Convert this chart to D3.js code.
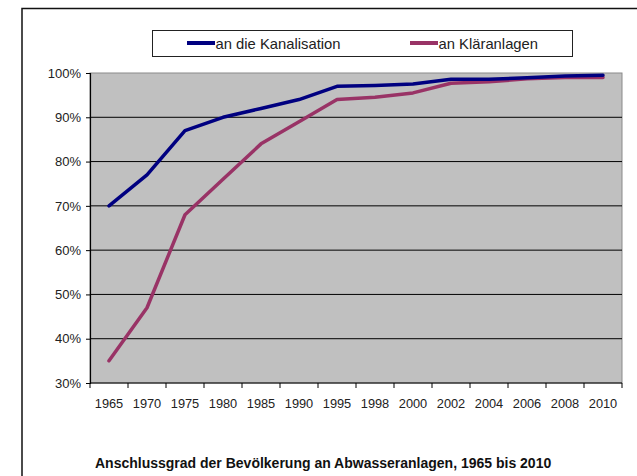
<!DOCTYPE html>
<html>
<head>
<meta charset="utf-8">
<script src="https://cdn.jsdelivr.net/npm/d3@7"></script>
<style>
  body { margin: 0; background: #fff; }
  svg { display: block; font-family: "Liberation Sans", Arial, sans-serif; }
</style>
</head>
<body>
<div id="chart"></div>
<script>
  // Anschlussgrad der Bevölkerung (%)
  const years = ["1965", "1970", "1975", "1980", "1985", "1990", "1995", "1998", "2000", "2002", "2004", "2006", "2008", "2010"];
  const kanalisation = [70, 77, 87, 90, 92, 94, 97, 97.2, 97.5, 98.6, 98.6, 98.9, 99.3, 99.5];
  const klaeranlagen = [35, 47, 68, 76, 84, 89, 94, 94.5, 95.5, 97.7, 98, 98.7, 99, 99];
  const yTicks = [30, 40, 50, 60, 70, 80, 90, 100];

  const width = 637;
  const height = 476;
  const margin = { top: 73, right: 15, bottom: 93, left: 90 };

  const svg = d3.select("#chart")
    .append("svg")
    .attr("width", width)
    .attr("height", height);

  // outer frame (right and bottom run off the page)
  svg.append("rect")
    .attr("x", 22)
    .attr("y", 8.5)
    .attr("width", 640)
    .attr("height", 500)
    .attr("fill", "none")
    .attr("stroke", "#111")
    .attr("stroke-width", 1.5);

  const x = d3.scaleBand()
    .domain(years)
    .range([margin.left, width - margin.right]);

  const y = d3.scaleLinear()
    .domain([30, 100])
    .range([height - margin.bottom, margin.top]);

  const plotW = width - margin.right - margin.left;
  const plotH = height - margin.bottom - margin.top;

  // plot area
  svg.append("rect")
    .attr("x", margin.left)
    .attr("y", margin.top)
    .attr("width", plotW)
    .attr("height", plotH)
    .attr("fill", "#c0c0c0")
    .attr("stroke", "#8a8a8a")
    .attr("stroke-width", 1);

  // gridlines
  svg.append("g")
    .selectAll("line")
    .data(yTicks.slice(1, -1))
    .enter()
    .append("line")
    .attr("x1", margin.left)
    .attr("x2", width - margin.right)
    .attr("y1", d => y(d))
    .attr("y2", d => y(d))
    .attr("stroke", "#000")
    .attr("stroke-width", 1);

  // y axis
  const yAxis = svg.append("g")
    .attr("transform", `translate(${margin.left},0)`)
    .call(d3.axisLeft(y).tickValues(yTicks).tickFormat(d => d + "%").tickSize(4).tickPadding(5));
  yAxis.select(".domain").attr("stroke", "#000").attr("stroke-width", 1.2);
  yAxis.selectAll(".tick line").attr("stroke", "#000");
  yAxis.selectAll("text")
    .attr("font-size", 13)
    .attr("fill", "#222")
    .style("font-family", "Liberation Sans, Arial, sans-serif");

  // x axis: ticks between categories
  const xAxisG = svg.append("g")
    .attr("transform", `translate(0,${height - margin.bottom})`);
  xAxisG.append("line")
    .attr("x1", margin.left)
    .attr("x2", width - margin.right)
    .attr("stroke", "#000")
    .attr("stroke-width", 1.2);
  xAxisG.selectAll(".tk")
    .data(years.concat(["end"]))
    .enter()
    .append("line")
    .attr("class", "tk")
    .attr("x1", (d, i) => i < years.length ? x(d) : x.range()[1])
    .attr("x2", (d, i) => i < years.length ? x(d) : x.range()[1])
    .attr("y1", 0)
    .attr("y2", 5)
    .attr("stroke", "#000");
  xAxisG.selectAll(".lbl")
    .data(years)
    .enter()
    .append("text")
    .attr("class", "lbl")
    .attr("x", d => x(d) + x.bandwidth() / 2)
    .attr("y", 25)
    .attr("text-anchor", "middle")
    .attr("font-size", 12.8)
    .attr("fill", "#222")
    .text(d => d);

  // lines
  const line = d3.line()
    .x((d, i) => x(years[i]) + x.bandwidth() / 2)
    .y(d => y(d));

  const series = [
    { name: "an die Kanalisation", values: kanalisation, color: "#000080" },
    { name: "an Kläranlagen", values: klaeranlagen, color: "#993366" }
  ];

  svg.selectAll(".series")
    .data(series.slice().reverse())
    .enter()
    .append("path")
    .attr("class", "series")
    .attr("d", d => line(d.values))
    .attr("fill", "none")
    .attr("stroke", d => d.color)
    .attr("stroke-width", 3.5)
    .attr("stroke-linejoin", "round")
    .attr("stroke-linecap", "round");

  // legend
  svg.append("rect")
    .attr("x", 152.5)
    .attr("y", 30.5)
    .attr("width", 420)
    .attr("height", 26)
    .attr("fill", "#fff")
    .attr("stroke", "#222")
    .attr("stroke-width", 1);

  const legendX = [187, 410];
  series.forEach((s, i) => {
    svg.append("line")
      .attr("x1", legendX[i])
      .attr("x2", legendX[i] + 28)
      .attr("y1", 43)
      .attr("y2", 43)
      .attr("stroke", s.color)
      .attr("stroke-width", 4);
    svg.append("text")
      .attr("x", legendX[i] + 28.5)
      .attr("y", 48.5)
      .attr("font-size", 14.8)
      .attr("fill", "#222")
      .text(s.name);
  });

  // title
  svg.append("text")
    .attr("x", 95)
    .attr("y", 468)
    .attr("font-size", 14)
    .attr("font-weight", "bold")
    .attr("fill", "#111")
    .text("Anschlussgrad der Bevölkerung an Abwasseranlagen, 1965 bis 2010");
</script>
</body>
</html>
